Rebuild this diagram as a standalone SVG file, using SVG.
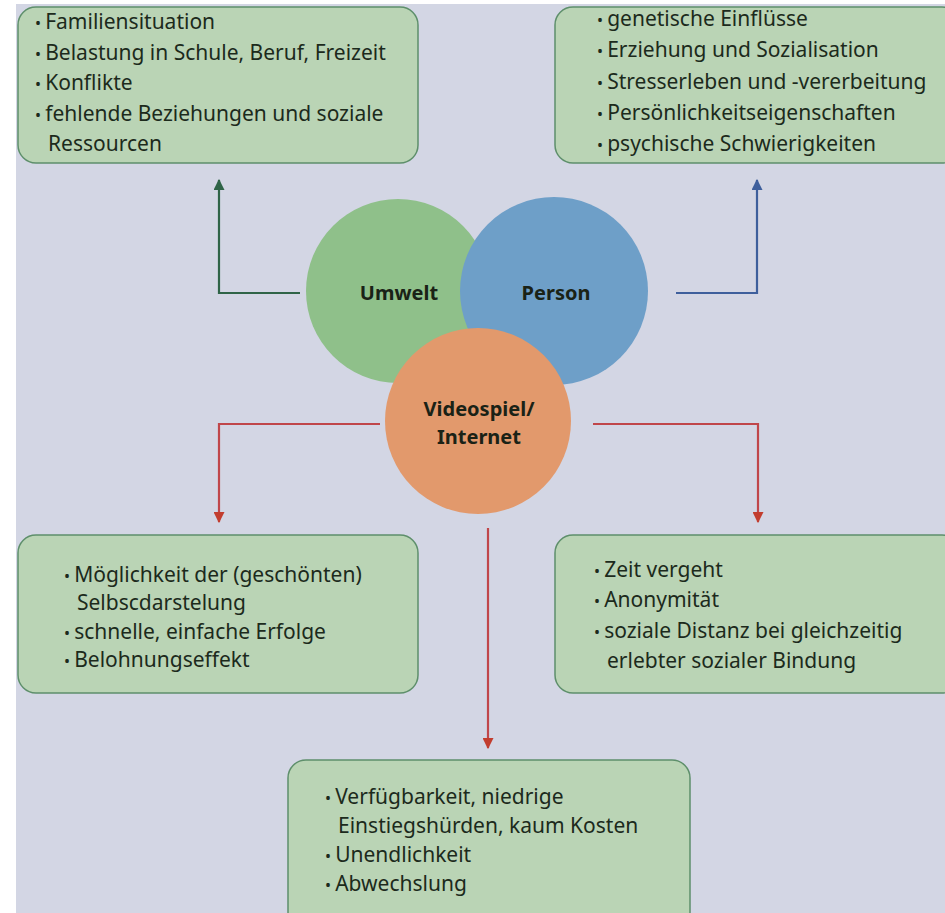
<svg xmlns="http://www.w3.org/2000/svg" width="945" height="913" viewBox="0 0 945 913">
<defs>
<style>
.box{fill:#bad4b5;stroke:#5e8f6b;stroke-width:1.5}
.t{font-family:"Noto Sans","Open Sans",sans-serif;font-size:21px;fill:#1c2a1c}
.b{font-size:16px}
.lbl{font-family:"Noto Sans","Open Sans",sans-serif;font-size:20px;font-weight:bold;fill:#1a2216;text-anchor:middle}
.cg{fill:none;stroke:#2f6447;stroke-width:2.2}
.cb{fill:none;stroke:#3e5f9c;stroke-width:2.2}
.cr{fill:none;stroke:#c0464a;stroke-width:2.2}
</style>
<marker id="ag" viewBox="0 0 10 10" refX="9" refY="5" markerWidth="5" markerHeight="5" orient="auto"><path d="M0,0 L10,5 L0,10 z" fill="#2f6447"/></marker>
<marker id="ab" viewBox="0 0 10 10" refX="9" refY="5" markerWidth="5" markerHeight="5" orient="auto"><path d="M0,0 L10,5 L0,10 z" fill="#3e5f9c"/></marker>
<marker id="ar" viewBox="0 0 10 10" refX="9" refY="5" markerWidth="5" markerHeight="5" orient="auto"><path d="M0,0 L10,5 L0,10 z" fill="#c23d2e"/></marker>
</defs>
<rect width="945" height="913" fill="#ffffff"/>
<rect x="16" y="4" width="929" height="909" fill="#d3d6e4"/>

<g id="connectors">
<path class="cg" d="M300,293 H219 V180" marker-end="url(#ag)"/>
<path class="cb" d="M676,293 H757 V180" marker-end="url(#ab)"/>
<path class="cr" d="M380,424 H219 V522" marker-end="url(#ar)"/>
<path class="cr" d="M593,424 H758 V522" marker-end="url(#ar)"/>
<path class="cr" d="M488,528 V748" marker-end="url(#ar)"/>
</g>

<g id="umwelt">
<circle cx="398" cy="291" r="92" fill="#8fc08a"/>
<text class="lbl" x="399" y="300">Umwelt</text>
</g>
<g id="person">
<circle cx="554" cy="291" r="94" fill="#6e9fc8"/>
<text class="lbl" x="556" y="300">Person</text>
</g>
<g id="videospiel">
<circle cx="478" cy="421" r="93" fill="#e2996c"/>
<text class="lbl" x="479" y="416">Videospiel/</text>
<text class="lbl" x="479" y="444">Internet</text>
</g>

<g id="box-umwelt">
<rect class="box" x="18" y="7" width="400" height="156" rx="18"/>
<text class="t" x="35" y="29"><tspan class="b">• </tspan>Familiensituation</text>
<text class="t" x="35" y="60"><tspan class="b">• </tspan>Belastung in Schule, Beruf, Freizeit</text>
<text class="t" x="35" y="90"><tspan class="b">• </tspan>Konflikte</text>
<text class="t" x="35" y="121"><tspan class="b">• </tspan>fehlende Beziehungen und soziale</text>
<text class="t" x="48" y="151">Ressourcen</text>
</g>

<g id="box-person">
<rect class="box" x="555" y="7" width="405" height="156" rx="18"/>
<text class="t" x="597" y="26"><tspan class="b">• </tspan>genetische Einflüsse</text>
<text class="t" x="597" y="57"><tspan class="b">• </tspan>Erziehung und Sozialisation</text>
<text class="t" x="597" y="89"><tspan class="b">• </tspan>Stresserleben und -vererbeitung</text>
<text class="t" x="597" y="120"><tspan class="b">• </tspan>Persönlichkeitseigenschaften</text>
<text class="t" x="597" y="151"><tspan class="b">• </tspan>psychische Schwierigkeiten</text>
</g>

<g id="box-links">
<rect class="box" x="18" y="535" width="400" height="158" rx="18"/>
<text class="t" x="64" y="582"><tspan class="b">• </tspan>Möglichkeit der (geschönten)</text>
<text class="t" x="77" y="610">Selbscdarstelung</text>
<text class="t" x="64" y="639"><tspan class="b">• </tspan>schnelle, einfache Erfolge</text>
<text class="t" x="64" y="667"><tspan class="b">• </tspan>Belohnungseffekt</text>
</g>

<g id="box-rechts">
<rect class="box" x="555" y="535" width="405" height="158" rx="18"/>
<text class="t" x="594" y="577"><tspan class="b">• </tspan>Zeit vergeht</text>
<text class="t" x="594" y="607"><tspan class="b">• </tspan>Anonymität</text>
<text class="t" x="594" y="638"><tspan class="b">• </tspan>soziale Distanz bei gleichzeitig</text>
<text class="t" x="607" y="668">erlebter sozialer Bindung</text>
</g>

<g id="box-unten">
<rect class="box" x="288" y="760" width="402" height="170" rx="18"/>
<text class="t" x="325" y="804"><tspan class="b">• </tspan>Verfügbarkeit, niedrige</text>
<text class="t" x="338" y="833">Einstiegshürden, kaum Kosten</text>
<text class="t" x="325" y="862"><tspan class="b">• </tspan>Unendlichkeit</text>
<text class="t" x="325" y="891"><tspan class="b">• </tspan>Abwechslung</text>
</g>
</svg>
